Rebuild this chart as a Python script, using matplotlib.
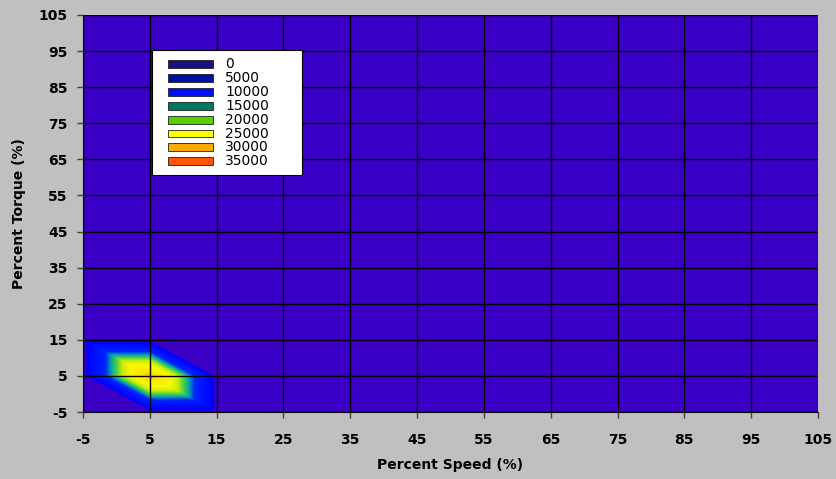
import numpy as np
import matplotlib
matplotlib.use("Agg")
import matplotlib.pyplot as plt
import matplotlib.tri as mtri
from matplotlib.colors import LinearSegmentedColormap, Normalize
from matplotlib.patches import Rectangle

plt.rcParams['font.family'] = ['DejaVu Sans']
plt.rcParams['axes.unicode_minus'] = False

# ---- data ----
speed = [-5, 5, 15, 25, 35, 45, 55, 65, 75, 85, 95, 105]
torque = [-5, 5, 15, 25, 35, 45, 55, 65, 75, 85, 95, 105]
# rows = torque (bottom to top), columns = speed (left to right)
counts = [
    [1500, 1500, 1500, 1500, 1500, 1500, 1500, 1500, 1500, 1500, 1500, 1500],  # -5
    [1500, 30000, 1500, 1500, 1500, 1500, 1500, 1500, 1500, 1500, 1500, 1500],  # 5
    [1500, 1500, 1500, 1500, 1500, 1500, 1500, 1500, 1500, 1500, 1500, 1500],  # 15
    [1500, 1500, 1500, 1500, 1500, 1500, 1500, 1500, 1500, 1500, 1500, 1500],  # 25
    [1500, 1500, 1500, 1500, 1500, 1500, 1500, 1500, 1500, 1500, 1500, 1500],  # 35
    [1500, 1500, 1500, 1500, 1500, 1500, 1500, 1500, 1500, 1500, 1500, 1500],  # 45
    [1500, 1500, 1500, 1500, 1500, 1500, 1500, 1300, 1200, 1300, 1500, 1500],  # 55
    [1500, 1500, 1500, 1500, 1500, 1500, 1500, 1300, 1000, 1300, 1500, 1500],  # 65
    [1500, 1500, 1500, 1500, 1500, 1500, 1500, 1400, 1300, 1400, 1500, 1500],  # 75
    [1500, 1500, 1500, 1500, 1500, 1500, 1500, 1500, 1500, 1500, 1500, 1500],  # 85
    [1500, 1500, 1500, 1500, 1500, 1500, 1500, 1500, 1500, 1500, 1500, 1500],  # 95
    [1500, 1500, 1500, 1500, 1500, 1500, 1500, 1500, 1500, 1500, 1500, 1500],  # 105
]
legend_labels = ['0', '5000', '10000', '15000', '20000', '25000', '30000', '35000']
legend_colors = ['#1B1080', '#0010A0', '#0010F8', '#007860', '#58D000', '#FFFF00', '#FFAA00', '#FF5500']
tick_vals = [-5, 5, 15, 25, 35, 45, 55, 65, 75, 85, 95, 105]

# ---- triangulated surface (diagonal upper-left to lower-right) ----
nx, ny = len(speed), len(torque)
X, Y = np.meshgrid(speed, torque)
Z = np.array(counts, dtype=float)
tris = []
for j in range(ny - 1):
    for i in range(nx - 1):
        a = j * nx + i
        b = j * nx + i + 1
        c = (j + 1) * nx + i
        d = (j + 1) * nx + i + 1
        tris.append([a, b, c])
        tris.append([b, d, c])
tri = mtri.Triangulation(X.ravel(), Y.ravel(), np.array(tris))
interp = mtri.LinearTriInterpolator(tri, Z.ravel())
xi = np.linspace(speed[0], speed[-1], 1101)
yi = np.linspace(torque[0], torque[-1], 1101)
XI, YI = np.meshgrid(xi, yi)
ZI = interp(XI, YI)

vmax = 30000.0
nodes = [
    (0, '#3000D0'), (1500, '#3C00C6'), (2200, '#3A00C8'), (3000, '#0000F0'),
    (3500, '#0000FF'), (10900, '#0024FF'), (13470, '#00A8A8'), (15750, '#50D040'),
    (18030, '#C0EC10'), (21450, '#F8F800'), (26580, '#FFE600'), (30000, '#FFC000'),
]
cmap = LinearSegmentedColormap.from_list('excel', [(v / vmax, c) for v, c in nodes])

fig = plt.figure(figsize=(8.36, 4.79), dpi=100, facecolor='#C0C0C0')
ax = fig.add_axes([83 / 836, 1 - 412 / 479, (818 - 83) / 836, (412 - 15) / 479])
ax.imshow(ZI, extent=(speed[0], speed[-1], torque[0], torque[-1]), origin='lower',
          cmap=cmap, norm=Normalize(0, vmax), aspect='auto', interpolation='bilinear', zorder=0)
ax.set_xlim(speed[0], speed[-1])
ax.set_ylim(torque[0], torque[-1])
ax.set_xticks(tick_vals)
ax.set_yticks(tick_vals)
ax.grid(True, color='black', linewidth=1.0, zorder=1)
ax.set_axisbelow(False)
for s in ['top', 'right']:
    ax.spines[s].set_visible(False)
ax.spines['left'].set_color('#303030')
ax.spines['bottom'].set_color('#000000')
ax.tick_params(direction='out', length=4, width=1, color='#404040',
               labelsize=10, pad=7)
for lab in ax.get_xticklabels() + ax.get_yticklabels():
    lab.set_fontweight('bold')
ax.tick_params(axis='x', pad=11)
ax.set_xlabel('Percent Speed (%)', fontsize=10, fontweight='bold', labelpad=8)
ax.set_ylabel('Percent Torque (%)', fontsize=10, fontweight='bold', labelpad=9)

# ---- legend box (pixel positions converted to figure fraction) ----
W, H = 836, 479
def fx(px):
    return px / W
def fy(py):
    return 1 - py / H
fig.patches.append(Rectangle((fx(152), fy(175)), fx(302) - fx(152), fy(50) - fy(175),
                             transform=fig.transFigure, facecolor='white',
                             edgecolor='black', linewidth=0.8, zorder=5))
for k, (lab, col) in enumerate(zip(legend_labels, legend_colors)):
    yc = 64 + k * 13.9
    fig.patches.append(Rectangle((fx(168), fy(yc + 4)), fx(213) - fx(168), fy(yc - 4) - fy(yc + 4),
                                 transform=fig.transFigure, facecolor=col,
                                 edgecolor='#202020', linewidth=0.6, zorder=6))
    fig.text(fx(225), fy(yc), lab, fontsize=10, va='center', ha='left', zorder=7)

fig.savefig('out.png', dpi=100, facecolor=fig.get_facecolor())
